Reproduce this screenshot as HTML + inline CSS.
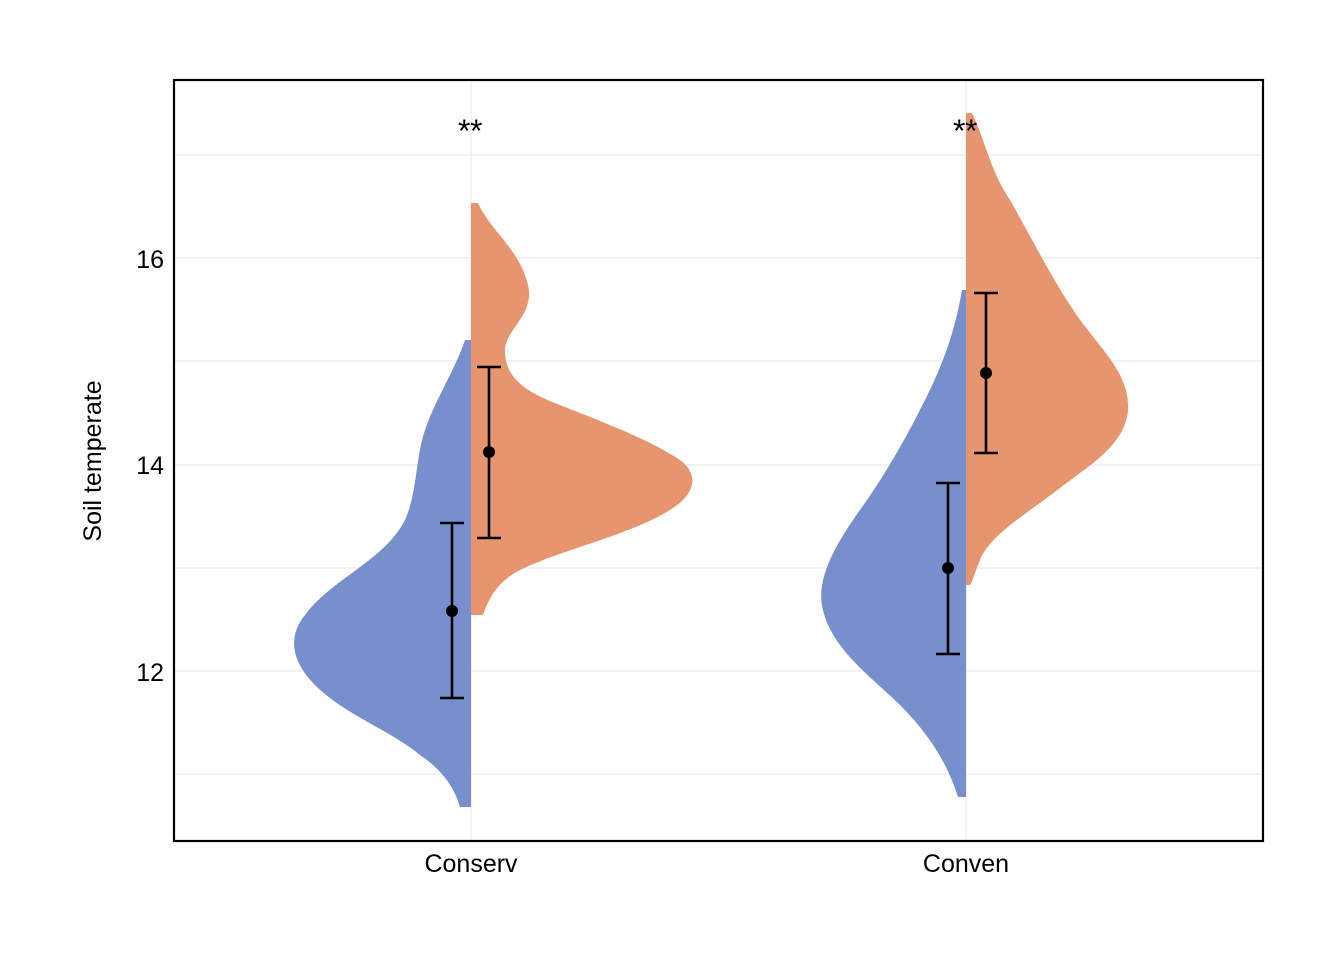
<!DOCTYPE html>
<html><head><meta charset="utf-8"><style>body{margin:0;background:#fff}svg{display:block}text{font-family:"Liberation Sans",sans-serif}</style></head><body>
<svg width="1344" height="960" viewBox="0 0 1344 960" xmlns="http://www.w3.org/2000/svg">
<rect width="1344" height="960" fill="#fff"/>
<g stroke="#ebebeb" stroke-width="1.2">
<line x1="174" x2="1263" y1="155" y2="155"/><line x1="174" x2="1263" y1="258" y2="258"/>
<line x1="174" x2="1263" y1="361" y2="361"/><line x1="174" x2="1263" y1="465" y2="465"/>
<line x1="174" x2="1263" y1="568" y2="568"/><line x1="174" x2="1263" y1="671" y2="671"/>
<line x1="174" x2="1263" y1="774" y2="774"/>
<line x1="471" x2="471" y1="80" y2="841"/><line x1="966" x2="966" y1="80" y2="841"/>
</g>
<path fill="#778FCD" d="M471,340 L465,340 C455,370 435,400 425,430 C415,460 418,490 405,520 C385,560 330,580 305,615 C285,640 295,665 315,685 C345,715 390,730 420,755 C445,772 455,790 460,807 L471,807 Z"/>
<path fill="#E6956F" d="M471,203 L478,203 C490,230 520,250 528,285 C535,315 505,330 505,350 C505,375 520,390 560,405 C610,425 650,440 680,460 C700,475 695,495 670,510 C630,535 560,550 520,570 C500,580 490,595 483,615 L471,615 Z"/>
<path fill="#778FCD" d="M966,290 L962,290 C955,330 945,360 925,400 C905,440 885,475 860,510 C835,545 815,580 823,610 C832,650 875,680 900,705 C930,735 948,765 958,797 L966,797 Z"/>
<path fill="#E6956F" d="M966,113 L972,113 C985,140 990,170 1010,200 C1030,235 1050,275 1070,305 C1095,345 1130,370 1128,410 C1125,445 1090,465 1060,488 C1025,515 990,535 980,560 C975,572 973,580 970,585 L966,585 Z"/>
<g stroke="#000" stroke-width="2.6" fill="none">
<path d="M452,523V698M440,523H464M440,698H464"/>
<path d="M489,367V538M477,367H501M477,538H501"/>
<path d="M948,483V654M936,483H960M936,654H960"/>
<path d="M986,293V453M974,293H998M974,453H998"/>
</g>
<g fill="#000"><circle cx="452" cy="611" r="6"/><circle cx="489" cy="452" r="6"/><circle cx="948" cy="568" r="6"/><circle cx="986" cy="373" r="6"/></g>
<rect x="174" y="80" width="1089" height="761" fill="none" stroke="#000" stroke-width="2.2"/>
<g font-size="25" fill="#000">
<text x="458" y="142" font-size="32">*</text><text x="470" y="142" font-size="32">*</text>
<text x="953" y="142" font-size="32">*</text><text x="965" y="142" font-size="32">*</text>
<text x="164" y="268" text-anchor="end">16</text>
<text x="164" y="474" text-anchor="end">14</text>
<text x="164" y="681" text-anchor="end">12</text>
<text x="471" y="872" text-anchor="middle">Conserv</text>
<text x="966" y="872" text-anchor="middle">Conven</text>
<text transform="translate(101,461) rotate(-90)" text-anchor="middle">Soil temperate</text>
</g>
</svg>
</body></html>
